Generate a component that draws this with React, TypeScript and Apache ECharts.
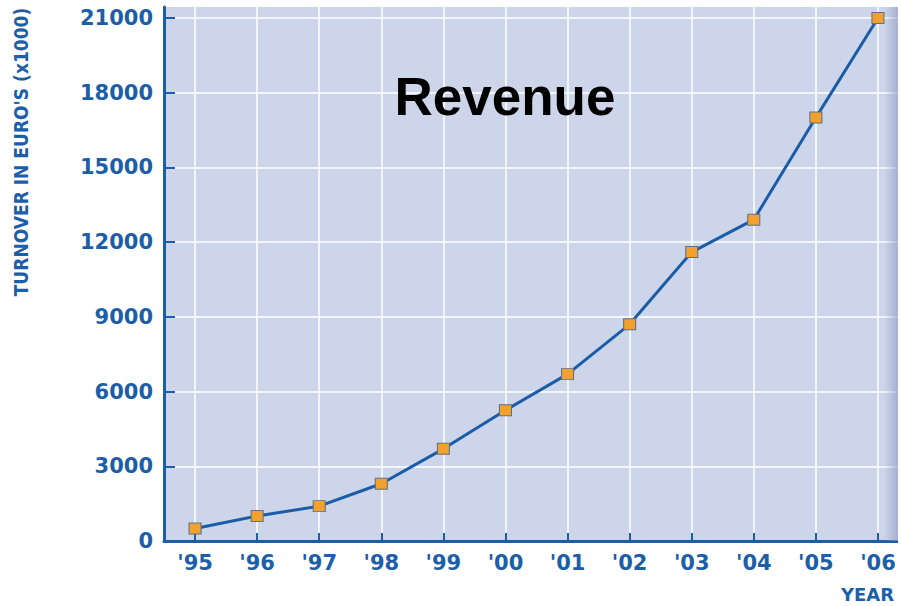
import React, { useEffect, useRef } from "react";
import * as echarts from "echarts";

const years = ["'95", "'96", "'97", "'98", "'99", "'00", "'01", "'02", "'03", "'04", "'05", "'06"];
const turnover = [500, 1000, 1400, 2300, 3700, 5250, 6700, 8700, 11600, 12900, 17000, 21000];
const yTicks = [0, 3000, 6000, 9000, 12000, 15000, 18000, 21000];
const titleText = "Revenue";
const yName = "TURNOVER IN EURO'S (x1000)";
const xName = "YEAR";

const blue = "#1d5ea8";

export default function App() {
  const ref = useRef<HTMLDivElement>(null);
  useEffect(() => {
    if (!ref.current) return;
    const chart = echarts.init(ref.current, undefined, { renderer: "svg" });
    chart.setOption({
      animation: false,
      backgroundColor: "#ffffff",
      grid: {
        left: 164,
        top: 7,
        width: 745,
        bottom: 65,
        show: true,
        backgroundColor: "#ccd5e9",
        borderWidth: 0,
        containLabel: false,
        outerBoundsMode: "none",
      },
      xAxis: {
        type: "category",
        data: years,
        boundaryGap: true,
        axisLine: { show: true, lineStyle: { color: blue, width: 3 } },
        axisTick: { show: true, inside: true, alignWithLabel: true, length: 8, lineStyle: { color: blue, width: 2 } },
        axisLabel: {
          margin: 11,
          color: blue,
          fontFamily: "DejaVu Sans",
          fontWeight: "bold",
          fontSize: 21,
        },
        splitLine: {
          show: true,
          alignWithLabel: true,
          lineStyle: { color: "rgba(246,248,252,0.9)", width: 2 },
        },
      },
      yAxis: {
        type: "value",
        min: 0,
        max: 21440,
        interval: 3000,
        axisLine: { show: true, lineStyle: { color: blue, width: 3 } },
        axisTick: { show: true, inside: true, length: 11, customValues: yTicks, lineStyle: { color: blue, width: 2 } },
        axisLabel: {
          margin: 11,
          color: blue,
          fontFamily: "DejaVu Sans",
          fontWeight: "bold",
          fontSize: 21,
          customValues: yTicks,
          formatter: (v: number) => String(v),
        },
        splitLine: { show: true, lineStyle: { color: "rgba(246,248,252,0.9)", width: 2 } },
      },
      graphic: [
        {
          type: "rect",
          z: 100,
          shape: { x: 884, y: 7, width: 14, height: 534 },
          style: {
            fill: new echarts.graphic.LinearGradient(0, 0, 1, 0, [
              { offset: 0, color: "rgba(150,160,200,0)" },
              { offset: 1, color: "rgba(150,160,200,0.7)" },
            ]),
          },
          silent: true,
        },
        {
          type: "rect",
          z: 101,
          shape: { x: 898, y: 0, width: 10, height: 606 },
          style: { fill: "#ffffff" },
          silent: true,
        },
        {
          type: "text",
          z: 100,
          x: 505,
          y: 96,
          style: {
            text: titleText,
            fontFamily: "Liberation Sans, Arial, sans-serif",
            fontWeight: "bold",
            fontSize: 53,
            fill: "#000000",
            align: "center",
            verticalAlign: "middle",
          },
        },
        {
          type: "text",
          z: 100,
          x: 21,
          y: 152,
          rotation: Math.PI / 2,
          style: {
            text: yName,
            fontFamily: "DejaVu Sans Condensed, sans-serif",
            fontWeight: "bold",
            fontSize: 19,
            fill: blue,
            align: "center",
            verticalAlign: "middle",
          },
        },
        {
          type: "text",
          z: 102,
          x: 894,
          y: 594,
          style: {
            text: xName,
            fontFamily: "DejaVu Sans",
            fontWeight: "bold",
            fontSize: 18,
            fill: blue,
            align: "right",
            verticalAlign: "middle",
          },
        },
      ],
      series: [
        {
          type: "line",
          data: turnover,
          symbol: "rect",
          symbolSize: [12, 11],
          lineStyle: { color: "#1a5da6", width: 3 },
          itemStyle: { color: "#f2a02e", borderColor: "#5f7088", borderWidth: 1 },
          z: 10,
        },
      ],
    });
    return () => chart.dispose();
  }, []);
  return <div ref={ref} style={{ position: "fixed", left: 0, top: 0, width: 901, height: 606 }} />;
}
